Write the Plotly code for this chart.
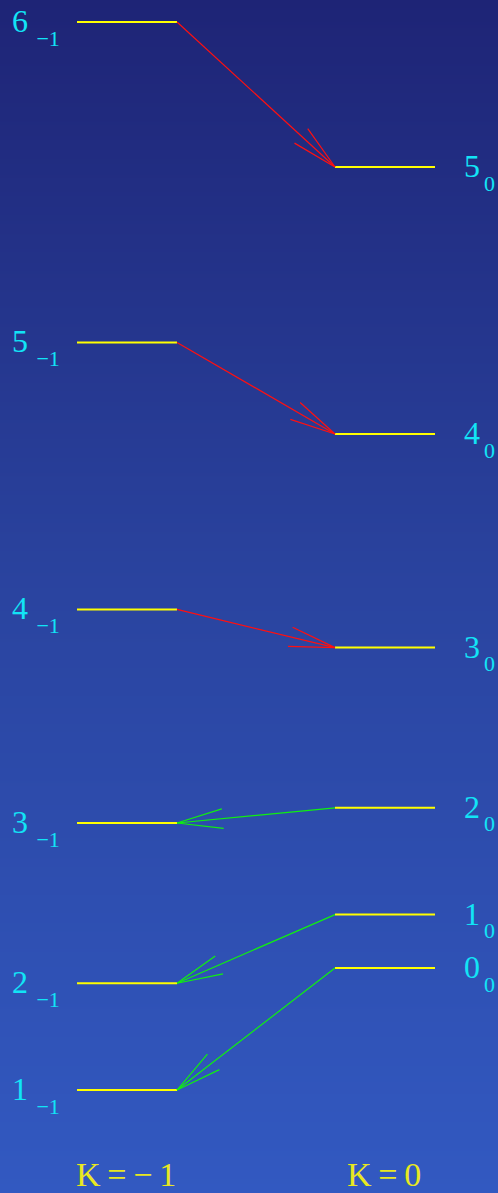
import numpy as np
import plotly.graph_objects as go

# ---- data ----
J_k0 = [0, 1, 2, 3, 4, 5]
E_k0 = [0.0, 2.0, 6.0, 12.0, 20.0, 30.0]
J_km1 = [1, 2, 3, 4, 5, 6]
E_km1 = [-4.57, -0.57, 5.43, 13.43, 23.43, 35.43]
# transitions
red_trans = [(6, 5), (5, 4), (4, 3)]      # K=-1 J -> K=0 J-1
green_trans = [(2, 3), (1, 2), (0, 1)]    # K=0 J -> K=-1 J+1
col_labels = ["K\u2009=\u2009\u2212\u20091", "K\u2009=\u20090"]

W, H = 498, 1193
SY = 26.7          # px per energy unit
Y0PX = 968         # pixel row of E=0
ymax = Y0PX / SY
ymin = (Y0PX - H) / SY

LX = (77, 177)
RX = (335, 435)

fig = go.Figure()

# gradient background
ys = np.linspace(ymin, ymax, 200)
fig.add_trace(go.Heatmap(
    x=[0, W], y=ys, z=[[v, v] for v in ys], zsmooth="best",
    colorscale=[[0, "#3259c1"], [0.5, "#2a44a0"], [1, "#1e2476"]],
    showscale=False, hoverinfo="skip"))

def to_px(x, e):
    return x, Y0PX - e * SY

def to_data(px, py):
    return px, (Y0PX - py) / SY

def arrow(x0, e0, x1, e1, color):
    p0 = np.array(to_px(x0, e0)); p1 = np.array(to_px(x1, e1))
    d = p0 - p1
    d = d / np.hypot(*d)
    L = 47
    xs, yv = [], []
    for a in (np.radians(12), -np.radians(12)):
        r = np.array([d[0]*np.cos(a) - d[1]*np.sin(a), d[0]*np.sin(a) + d[1]*np.cos(a)])
        h = p1 + L * r
        hx, hy = to_data(*h)
        xs += [x1, hx, None]
        yv += [e1, hy, None]
    xs = [x0, x1, None] + xs
    yv = [e0, e1, None] + yv
    fig.add_trace(go.Scatter(x=xs, y=yv, mode="lines",
                             line=dict(color=color, width=1.2),
                             hoverinfo="skip", showlegend=False))

# levels
lx, ly = [], []
for e in E_km1:
    lx += [LX[0], LX[1], None]; ly += [e, e, None]
for e in E_k0:
    lx += [RX[0], RX[1], None]; ly += [e, e, None]
fig.add_trace(go.Scatter(x=lx, y=ly, mode="lines",
                         line=dict(color="#ffff00", width=2),
                         hoverinfo="skip", showlegend=False))

dk0 = dict(zip(J_k0, E_k0))
dkm1 = dict(zip(J_km1, E_km1))
for jf, jt in red_trans:
    arrow(LX[1], dkm1[jf], RX[0], dk0[jt], "#ff1010")
for jf, jt in green_trans:
    arrow(RX[0], dk0[jf], LX[1], dkm1[jt], "#10f010")

CYAN = "#12e4f6"
FONT = "Liberation Serif"
ann = []
def label(xpx, e, main, sub, subdx):
    ann.append(dict(x=xpx, y=e + 1 / SY, text=main, showarrow=False,
                    xanchor="left", yanchor="middle",
                    font=dict(family=FONT, size=32, color=CYAN)))
    ann.append(dict(x=xpx + subdx, y=e - 16 / SY, text=sub, showarrow=False,
                    xanchor="left", yanchor="middle",
                    font=dict(family=FONT, size=22, color=CYAN)))

for j, e in zip(J_km1, E_km1):
    label(10, e, str(j), "\u2009\u22121", 20)
for j, e in zip(J_k0, E_k0):
    label(462, e, str(j), "0", 20)

ky = to_data(0, 1174)[1]
ann.append(dict(x=LX[0] - 3, y=ky, text=col_labels[0],
                showarrow=False, xanchor="left", yanchor="middle",
                font=dict(family=FONT, size=34, color="#e8e820")))
ann.append(dict(x=RX[0] + 10, y=ky, text=col_labels[1],
                showarrow=False, xanchor="left", yanchor="middle",
                font=dict(family=FONT, size=34, color="#e8e820")))

fig.update_layout(
    width=W, height=H, margin=dict(l=0, r=0, t=0, b=0),
    paper_bgcolor="#2a44a0", plot_bgcolor="#2a44a0",
    xaxis=dict(range=[0, W], visible=False, fixedrange=True),
    yaxis=dict(range=[ymin, ymax], visible=False, fixedrange=True),
    annotations=ann, showlegend=False)

fig.write_html("out.html", config={"displayModeBar": False},
               post_script="document.body.style.margin='0';document.body.style.overflow='hidden';")
